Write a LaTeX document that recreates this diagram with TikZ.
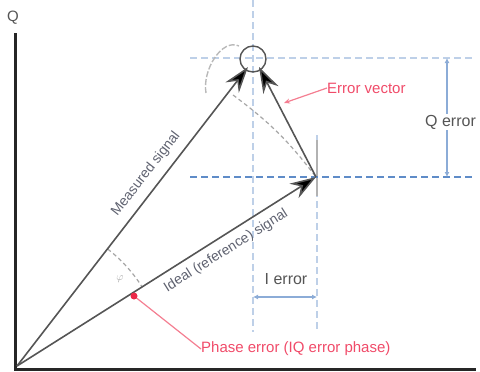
\documentclass[tikz,border=0pt]{standalone}
\usepackage{fontspec}
\setmainfont{Liberation Sans}
\usetikzlibrary{arrows.meta,calc}
\definecolor{vecgray}{RGB}{85,85,85}
\definecolor{lblue}{RGB}{190,208,232}
\definecolor{mblue}{RGB}{95,140,200}
\definecolor{ablue}{RGB}{140,172,215}
\definecolor{redc}{RGB}{236,40,72}
\definecolor{redt}{RGB}{240,75,105}
\definecolor{labgray}{RGB}{95,98,112}
\definecolor{txtgray}{RGB}{85,85,85}
\begin{document}
\begin{tikzpicture}[x=1pt,y=-1pt,
  vec/.style={draw=vecgray,line width=1.6pt,-{Stealth[length=26pt,width=17pt,fill=black]}},
  axis/.style={draw=black!85,line width=3pt},
  guide/.style={draw=lblue,line width=1.4pt,dash pattern=on 7pt off 4pt},
  guidedark/.style={draw=mblue,line width=1.4pt,dash pattern=on 7pt off 4pt},
  dimarrow/.style={draw=ablue,line width=1.4pt,{Latex[length=5pt,width=5pt]}-{Latex[length=5pt,width=5pt]}},
  veclabel/.style={font=\fontsize{14}{16}\selectfont,text=labgray,inner sep=0pt},
  dimlabel/.style={font=\fontsize{16}{18}\selectfont,text=txtgray,inner sep=1pt},
  redlabel/.style={font=\fontsize{15}{17}\selectfont,text=redt,inner sep=0pt,anchor=west},
  redline/.style={draw=redc!60,line width=1.2pt},
  auxline/.style={draw=gray!70,line width=1.2pt,dash pattern=on 4pt off 3pt}]
\useasboundingbox (0,0) rectangle (480,372);
% coordinates
\coordinate (O) at (17,366);
\coordinate (M) at (248,67);
\coordinate (R) at (316,177);
\coordinate (E) at (259,67);
\coordinate (P) at (253,59);
% guides
\draw[guide] (253,0) -- (253,332);
\draw[guide] (317,135) -- (317,332);
\draw[draw=gray!60,line width=1.2pt] (317,140) -- (317,196);
\draw[guide] (190,58) -- (475,58);
\draw[guidedark] (190,177) -- (475,177);
% dimension arrows
\coordinate (qa) at (447,58);
\coordinate (qb) at (447,177);
\draw[dimarrow] (qa) -- (qb);
\node[dimlabel,fill=white,anchor=west] (qlab) at (424,122) {Q error};
\coordinate (ia) at (253,297);
\coordinate (ib) at (317,297);
\draw[dimarrow] (ia) -- (ib);
\node[dimlabel] (ilab) at (286,279) {I error};
% axes
\draw[axis] (15,33) -- (15,369) -- (476,369);
\node[font=\fontsize{15}{17}\selectfont,text=txtgray,inner sep=0pt] (qaxis) at (13,18) {Q};
% circle around measured point
\node[draw=vecgray,line width=1.4pt,circle,minimum size=26pt,inner sep=0pt] (circ) at (P) {};
% gray bracket arc
\draw[draw=gray!55,line width=1.4pt,dash pattern=on 6pt off 2pt] (206,93) .. controls (202,70) and (222,38) .. (239,46);
% dashed arc from ideal to measured
\draw[auxline] (233,95) to[bend left=8] (R);
% phase angle arc
\draw[auxline] (O) ++(-52.2:148) arc[start angle=-52.2,end angle=-32.2,radius=148];
\node[font=\fontsize{11}{12}\selectfont,text=gray!70,inner sep=0pt] (phi) at (120,279) {$\varphi$};
% vectors
\draw[vec] (O) -- (M);
\draw[vec] (O) -- (R);
\draw[vec] (R) -- (E);
% vector labels
\node[veclabel,rotate=52.2] (mlab) at (146,174) {Measured signal};
\node[veclabel,rotate=32.2] (rlab) at (226,251) {Ideal (reference) signal};
% red annotations
\node[redlabel] (evlab) at (327,88) {Error vector};
\coordinate (evpt) at (284,103);
\draw[redline,-{Stealth[length=6pt,width=5pt]}] (evlab.west) -- (evpt);
\node[redlabel] (pelab) at (201,349) {Phase error (IQ error phase)};
\coordinate (pept) at (134,296);
\draw[redline] (pelab.west) -- (pept);
\fill[redc] (pept) circle (3.5pt);
\end{tikzpicture}
\end{document}
